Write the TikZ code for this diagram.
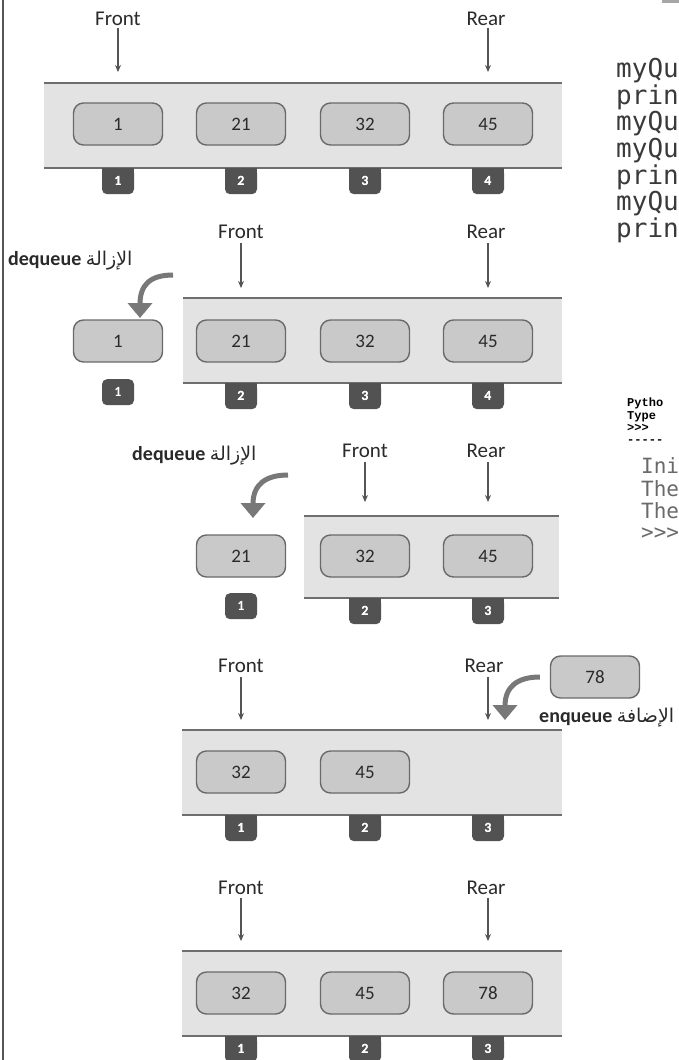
\documentclass[tikz,border=0pt]{standalone}
\usepackage{fontspec}
\setmainfont{Carlito}
\newfontfamily\arabicfont[Script=Arabic]{DejaVu Sans}
\newfontfamily\codefont{DejaVu Sans Mono}
\newfontfamily\shellfont{Liberation Mono}
\TeXXeTstate=1
\usetikzlibrary{arrows.meta}
\definecolor{bandfill}{HTML}{E3E3E3}
\definecolor{bandline}{HTML}{6E6E6E}
\definecolor{boxfill}{HTML}{C9C9C9}
\definecolor{boxline}{HTML}{6A6A6A}
\definecolor{tabgray}{HTML}{525252}
\definecolor{textdark}{HTML}{2A2A2A}
\definecolor{arrowgray}{HTML}{787878}
\definecolor{ptrgray}{HTML}{555555}
\definecolor{codegray}{HTML}{3A3A3A}
\definecolor{shellgray}{HTML}{6A6A6A}
\newcommand\qtab[4]{%
  \node[tabnode, anchor=north] (#1) at (#2,#3) {#4};
  \fill[tabgray] (#1.north west) rectangle ([yshift=-6pt]#1.north east);
  \node[tabnum] at (#1) {#4};}
\newcommand\qtabfree[4]{%
  \node[tabnode, anchor=north] (#1) at (#2,#3) {#4};}
\begin{document}
\begin{tikzpicture}[x=1pt,y=-1pt,
  qband/.style={fill=bandfill, draw=none, inner sep=0pt},
  bline/.style={draw=bandline, line width=2pt},
  qbox/.style={draw=boxline, fill=boxfill, rounded corners=10pt, line width=1.4pt,
    minimum width=89pt, minimum height=42pt, inner sep=0pt, text=textdark,
    font=\fontsize{19}{19}\selectfont},
  tabnode/.style={fill=tabgray, rounded corners=5pt, minimum width=32pt, minimum height=26pt,
    inner sep=0pt, text=white, font=\bfseries\fontsize{14}{14}\selectfont},
  tabnum/.style={inner sep=0pt, text=white, font=\bfseries\fontsize{14}{14}\selectfont},
  ptrlabel/.style={anchor=base, inner sep=0pt, text=textdark, font=\fontsize{21}{21}\selectfont},
  ptr/.style={draw=ptrgray, line width=1.1pt, -{Stealth[length=7pt,width=6pt]}},
  bigarrow/.style={draw=arrowgray, line width=5pt, -{Triangle[length=15pt,width=24pt]}},
  oplabel/.style={anchor=base west, inner sep=0pt, text=textdark, font=\bfseries\fontsize{20}{20}\selectfont},
  codeline/.style={anchor=base west, inner sep=0pt, text=codegray, font=\codefont\fontsize{26}{26}\selectfont},
  shellsmall/.style={anchor=base west, inner sep=0pt, text=black, font=\shellfont\bfseries\fontsize{12}{12}\selectfont},
  shellbig/.style={anchor=base west, inner sep=0pt, text=shellgray, font=\codefont\fontsize{21}{21}\selectfont}
]
\useasboundingbox (0,0) rectangle (679,1060);
\fill[white] (0,0) rectangle (679,1060);
% left border and top-right fragment
\draw[draw=ptrgray, line width=2pt] (2.5,0) -- (2.5,1060);
\fill[gray!70] (662,0) rectangle (679,3);

% ================= Row 1 =================
\node[qband, minimum width=518pt, minimum height=85pt] (q1) at (303,125.5) {};
\draw[bline] (q1.north west) -- (q1.north east);
\draw[bline] (q1.south west) -- (q1.south east);
\node[qbox] (r1b1) at (118,124) {1};
\node[qbox] (r1b2) at (241,124) {21};
\node[qbox] (r1b3) at (365,124) {32};
\node[qbox] (r1b4) at (488,124) {45};
\qtab{r1t1}{118}{168}{1}
\qtab{r1t2}{241}{168}{2}
\qtab{r1t3}{365}{168}{3}
\qtab{r1t4}{488}{168}{4}
\node[ptrlabel] (r1f) at (118,25) {Front};
\node[ptrlabel] (r1r) at (486,25) {Rear};
\coordinate (r1fa) at (118,72);
\coordinate (r1ra) at (488,72);
\draw[ptr] ([yshift=-3pt]r1f.south) -- (r1fa);
\draw[ptr] ([yshift=-3pt,xshift=2pt]r1r.south) -- (r1ra);

% ================= Row 2 =================
\node[qband, minimum width=379pt, minimum height=85pt] (q2) at (372.5,340.5) {};
\draw[bline] (q2.north west) -- (q2.north east);
\draw[bline] (q2.south west) -- (q2.south east);
\node[qbox] (r2b1) at (118,341) {1};
\node[qbox] (r2b2) at (241,341) {21};
\node[qbox] (r2b3) at (365,341) {32};
\node[qbox] (r2b4) at (488,341) {45};
\qtabfree{r2t1}{118}{379}{1}
\qtab{r2t2}{241}{383}{2}
\qtab{r2t3}{365}{383}{3}
\qtab{r2t4}{488}{383}{4}
\node[ptrlabel] (r2f) at (241,238) {Front};
\node[ptrlabel] (r2r) at (486,238) {Rear};
\coordinate (r2fa) at (241,288);
\coordinate (r2ra) at (488,288);
\draw[ptr] ([yshift=-5pt]r2f.south) -- (r2fa);
\draw[ptr] ([yshift=-5pt,xshift=2pt]r2r.south) -- (r2ra);
\node[oplabel] (r2op) at (8,265) {dequeue {\arabicfont\mdseries\fontsize{19}{19}\selectfont\beginR الإزالة\endR}};
\coordinate (r2cs) at (173,275);
\coordinate (r2ce) at (140,318);
\draw[bigarrow] (r2cs) .. controls (150,275) and (140,285) .. (r2ce);

% ================= Row 3 =================
\node[qband, minimum width=255pt, minimum height=82pt] (q3) at (431.5,557) {};
\draw[bline] (q3.north west) -- (q3.north east);
\draw[bline] (q3.south west) -- (q3.south east);
\node[qbox] (r3b1) at (241,556) {21};
\node[qbox] (r3b2) at (365,556) {32};
\node[qbox] (r3b3) at (488,556) {45};
\qtabfree{r3t1}{241}{593}{1}
\qtab{r3t2}{365}{598}{2}
\qtab{r3t3}{488}{598}{3}
\node[ptrlabel] (r3f) at (365,457) {Front};
\node[ptrlabel] (r3r) at (486,457) {Rear};
\coordinate (r3fa) at (365,502);
\coordinate (r3ra) at (488,502);
\draw[ptr] ([yshift=-5pt]r3f.south) -- (r3fa);
\draw[ptr] ([yshift=-5pt,xshift=2pt]r3r.south) -- (r3ra);
\node[oplabel] (r3op) at (132,460) {dequeue {\arabicfont\mdseries\fontsize{19}{19}\selectfont\beginR الإزالة\endR}};
\coordinate (r3cs) at (288,475);
\coordinate (r3ce) at (253,518);
\draw[bigarrow] (r3cs) .. controls (265,475) and (253,485) .. (r3ce);

% ================= Row 4 =================
\node[qband, minimum width=380pt, minimum height=85pt] (q4) at (372,772.5) {};
\draw[bline] (q4.north west) -- (q4.north east);
\draw[bline] (q4.south west) -- (q4.south east);
\node[qbox] (r4b1) at (241,772) {32};
\node[qbox] (r4b2) at (365,772) {45};
\qtab{r4t1}{241}{815}{1}
\qtab{r4t2}{365}{815}{2}
\qtab{r4t3}{488}{815}{3}
\node[ptrlabel] (r4f) at (241,672) {Front};
\node[ptrlabel] (r4r) at (484,672) {Rear};
\coordinate (r4fa) at (241,720);
\coordinate (r4ra) at (488,720);
\draw[ptr] ([yshift=-5pt]r4f.south) -- (r4fa);
\draw[ptr] ([yshift=-5pt,xshift=4pt]r4r.south) -- (r4ra);
\node[qbox] (r4new) at (595,677) {78};
\coordinate (r4ce) at (505,720);
\draw[bigarrow] ([xshift=-10pt]r4new.west) .. controls (517,677) and (505,687) .. (r4ce);
\node[oplabel] (r4op) at (539,722) {enqueue {\arabicfont\mdseries\fontsize{19}{19}\selectfont\beginR الإضافة\endR}};

% ================= Row 5 =================
\node[qband, minimum width=380pt, minimum height=85pt] (q5) at (372,993.5) {};
\draw[bline] (q5.north west) -- (q5.north east);
\draw[bline] (q5.south west) -- (q5.south east);
\node[qbox] (r5b1) at (241,993) {32};
\node[qbox] (r5b2) at (365,993) {45};
\node[qbox] (r5b3) at (488,993) {78};
\qtab{r5t1}{241}{1036}{1}
\qtab{r5t2}{365}{1036}{2}
\qtab{r5t3}{488}{1036}{3}
\node[ptrlabel] (r5f) at (241,894) {Front};
\node[ptrlabel] (r5r) at (486,894) {Rear};
\coordinate (r5fa) at (241,941);
\coordinate (r5ra) at (488,941);
\draw[ptr] ([yshift=-4pt]r5f.south) -- (r5fa);
\draw[ptr] ([yshift=-4pt,xshift=2pt]r5r.south) -- (r5ra);

% ================= code (cut off at right edge) =================
\node[codeline] (c1) at (616,77) {myQu};
\node[codeline] (c2) at (616,104) {prin};
\node[codeline] (c3) at (616,130) {myQu};
\node[codeline] (c4) at (616,157) {myQu};
\node[codeline] (c5) at (616,184) {prin};
\node[codeline] (c6) at (616,210) {myQu};
\node[codeline] (c7) at (616,237) {prin};

% ================= shell output =================
\node[shellsmall] (s1) at (627,406) {Pytho};
\node[shellsmall] (s2) at (627,419) {Type};
\node[shellsmall] (s3) at (627,431) {>>>};
\node[shellsmall] (s4) at (627,443) {-----};
\node[shellbig] (s5) at (641,473) {Ini};
\node[shellbig] (s6) at (641,496) {The};
\node[shellbig] (s7) at (641,518) {The};
\node[shellbig] (s8) at (641,539) {>>>};
\end{tikzpicture}
\end{document}
